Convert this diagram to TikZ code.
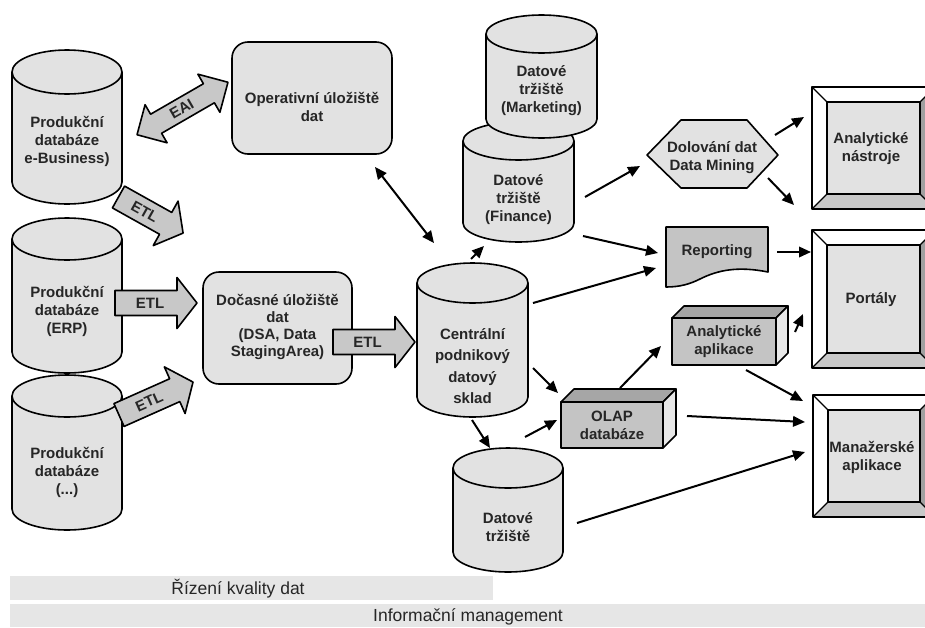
\documentclass[tikz,border=0pt]{standalone}
\usepackage{fontspec}
\setmainfont{Liberation Sans}
\usetikzlibrary{arrows.meta}

\definecolor{shapefill}{HTML}{E2E2E2}
\definecolor{etlfill}{HTML}{C8C8C8}
\definecolor{docfill}{HTML}{C4C4C4}
\definecolor{boxtop}{HTML}{A6A6A6}
\definecolor{boxside}{HTML}{E8E8E8}
\definecolor{bevbottom}{HTML}{C8C8C8}
\definecolor{bevright}{HTML}{A0A0A0}
\definecolor{barfill}{HTML}{E6E6E6}

% database cylinder: name, centre x, top y, bottom y, x radius, y radius, text y, text
\newcommand{\dbcyl}[8]{%
  \filldraw[outline,fill=shapefill] (#2,#4-#6) ellipse [x radius=#5, y radius=#6];
  \fill[shapefill] (#2-#5,#3+#6) rectangle (#2+#5,#4-#6);
  \draw[outline] (#2-#5,#3+#6) -- (#2-#5,#4-#6) (#2+#5,#3+#6) -- (#2+#5,#4-#6);
  \filldraw[outline,fill=shapefill] (#2,#3+#6) ellipse [x radius=#5, y radius=#6];
  \node[lbl] (#1) at (#2,#7) {#8};}

% bevelled button: name, left, top, right, bottom, text
\newcommand{\bevelbox}[6]{%
  \fill[white] (#2,#3) rectangle (#4,#5);
  \fill[bevbottom] (#2,#5) -- (#2+15,#5-15) -- (#4-15,#5-15) -- (#4,#5) -- cycle;
  \fill[bevright] (#4,#3) -- (#4-15,#3+15) -- (#4-15,#5-15) -- (#4,#5) -- cycle;
  \draw[line width=1.1] (#2,#3) -- (#2+15,#3+15) (#4,#3) -- (#4-15,#3+15)
        (#2,#5) -- (#2+15,#5-15) (#4,#5) -- (#4-15,#5-15);
  \filldraw[outline,fill=shapefill] (#2+15,#3+15) rectangle (#4-15,#5-15);
  \draw[outline] (#2,#3) rectangle (#4,#5);
  \node[lbl] (#1) at ({#2+59},{(#3+#5)/2+1}) {#6};}

% block arrow with label: name, tail x, tail y, angle, length, label, label position
\newcommand{\blockarrow}[7]{%
  \begin{scope}[shift={(#2,#3)}, rotate=#4]
    \filldraw[outline,fill=etlfill] (0,-12.5) -- (#5-20,-12.5) -- (#5-20,-25.5) -- (#5,0)
        -- (#5-20,25.5) -- (#5-20,12.5) -- (0,12.5) -- cycle;
    \node[lbl, rotate=#4] (#1) at (#7,0) {#6};
  \end{scope}}

% solid 3D box: name, left, top, right, bottom, depth, text
\newcommand{\solidbox}[7]{%
  \filldraw[outline,fill=boxtop] (#2,#3) -- (#2+#6,#3-#6) -- (#4+#6,#3-#6) -- (#4,#3) -- cycle;
  \filldraw[outline,fill=boxside] (#4,#3) -- (#4+#6,#3-#6) -- (#4+#6,#5-#6) -- (#4,#5) -- cycle;
  \filldraw[outline,fill=docfill] (#2,#3) rectangle (#4,#5);
  \node[lbl] (#1) at ({(#2+#4)/2},{(#3+#5)/2}) {#7};}

\begin{document}
\begin{tikzpicture}[x=1pt,y=-1pt,
  outline/.style={draw=black,line width=1.6,line join=round},
  lbl/.style={font=\bfseries\fontsize{15}{18}\selectfont,align=center,inner sep=0pt,text=black!85},
  rbox/.style={outline,fill=shapefill,rounded corners=16pt},
  conn/.style={line width=2,-{Triangle[length=12pt,width=10.5pt]}},
  conn2/.style={line width=2,{Triangle[length=12pt,width=10.5pt]}-{Triangle[length=12pt,width=10.5pt]}},
  barlbl/.style={font=\fontsize{17.5}{20}\selectfont,inner sep=0pt,text=black!85}]

\useasboundingbox (0,0) rectangle (925,627);
\fill[white] (0,0) rectangle (925,627);

% source databases
\dbcyl{src1}{67}{50}{204}{55}{22}{141}{Produkční\\databáze\\e-Business)}
\dbcyl{src2}{67}{218}{373}{55}{21}{311}{Produkční\\databáze\\(ERP)}
\dbcyl{src3}{67}{375}{530}{55}{21}{472}{Produkční\\databáze\\(...)}

% operational data store and staging area
\node[rbox,minimum width=160pt,minimum height=112pt] (odsbox) at (312,98) {};
\node[lbl] (ods) at (312,107) {Operativní úložiště\\dat};
\node[rbox,minimum width=149pt,minimum height=112pt] (dsabox) at (277.5,328) {};
\node[lbl,font=\bfseries\fontsize{15}{16.7}\selectfont] (dsa) at (277.5,327) {Dočasné úložiště\\dat\\(DSA, Data\\StagingArea)};

% EAI double block arrow
\begin{scope}[shift={(182.5,108.5)}, rotate=30]
  \filldraw[outline,fill=etlfill] (-52.5,0) -- (-30.5,-22) -- (-30.5,-11) -- (30.5,-11)
      -- (30.5,-22) -- (52.5,0) -- (30.5,22) -- (30.5,11) -- (-30.5,11) -- (-30.5,22) -- cycle;
  \node[lbl, rotate=30] (eai) at (-1,0) {EAI};
\end{scope}

% ETL block arrows
\blockarrow{etl1}{118.5}{197}{-29.2}{74}{ETL}{30}
\blockarrow{etl2}{115}{303}{0}{82}{ETL}{35}
\blockarrow{etl3}{119}{415}{24}{81}{ETL}{33}
\blockarrow{etl4}{333}{342}{0}{82}{ETL}{34.5}

% central warehouse and data marts
\dbcyl{dw}{472.5}{263}{417}{55.5}{20}{365.5}{}
\node[lbl,font=\bfseries\fontsize{15}{21.6}\selectfont] at (472.5,366) {Centrální\\podnikový\\datový\\sklad};
\dbcyl{finance}{518.5}{122}{242}{55.5}{19}{199.5}{Datové\\tržiště\\(Finance)}
\dbcyl{marketing}{541.5}{15}{138}{55.5}{19}{90.5}{Datové\\tržiště\\(Marketing)}
\dbcyl{mart}{508}{448}{572}{55}{20}{527}{Datové\\tržiště}

% data mining hexagon
\filldraw[outline,fill=shapefill] (647,155) -- (681,120) -- (747,120) -- (778,155) -- (747,188) -- (681,188) -- cycle;
\node[lbl] (dm) at (712,157.5) {Dolování dat\\Data Mining};

% reporting document
\filldraw[outline,fill=docfill] (666,227) -- (768,227) -- (768,272)
   .. controls (738,266) and (718,270) .. (700,279)
   .. controls (690,284) and (680,287) .. (666,287) -- cycle;
\node[lbl] (rep) at (717,252) {Reporting};

% OLAP and analytic applications
\solidbox{aapp}{672}{318}{776}{365}{12}{Analytické\\aplikace}
\solidbox{olap}{561}{402}{663}{448}{13}{OLAP\\databáze}

% front-end tools
\bevelbox{tools}{812}{87}{935}{209}{Analytické\\nástroje}
\bevelbox{portal}{812}{230}{935}{368}{Portály}
\bevelbox{mgmt}{813}{395}{935}{517}{Manažerské\\aplikace}

% connector end points
\coordinate (ods-o) at (375,167);   \coordinate (dw-i1) at (434,243);
\coordinate (dw-o1) at (471,259);   \coordinate (fin-i) at (484,246);
\coordinate (fin-o1) at (585,197);  \coordinate (dm-i) at (640,166);
\coordinate (fin-o2) at (583,236);  \coordinate (rep-i1) at (658,253);
\coordinate (dw-o2) at (533,303);   \coordinate (rep-i2) at (656,268);
\coordinate (dm-o1) at (775,135);   \coordinate (tools-i) at (804,117);
\coordinate (dm-o2) at (768,178);   \coordinate (portal-i1) at (794,205);
\coordinate (rep-o) at (777,252);   \coordinate (portal-i2) at (811,252);
\coordinate (dw-o3) at (533,368);   \coordinate (olap-i1) at (558,393);
\coordinate (dw-o4) at (472,420);   \coordinate (mart-i) at (490,448);
\coordinate (mart-o1) at (525,437); \coordinate (olap-i2) at (557,420);
\coordinate (olap-o1) at (620,388); \coordinate (aapp-i) at (661,346);
\coordinate (aapp-o1) at (795,332); \coordinate (portal-i3) at (803,314);
\coordinate (aapp-o2) at (746,370); \coordinate (mgmt-i1) at (803,401);
\coordinate (olap-o2) at (687,416); \coordinate (mgmt-i2) at (805,422);
\coordinate (mart-o2) at (577,523); \coordinate (mgmt-i3) at (805,452);

\draw[conn2] (ods-o) -- (dw-i1);
\draw[conn] (dw-o1) -- (fin-i);
\draw[conn] (fin-o1) -- (dm-i);
\draw[conn] (fin-o2) -- (rep-i1);
\draw[conn] (dw-o2) -- (rep-i2);
\draw[conn] (dm-o1) -- (tools-i);
\draw[conn] (dm-o2) -- (portal-i1);
\draw[conn] (rep-o) -- (portal-i2);
\draw[conn] (dw-o3) -- (olap-i1);
\draw[conn] (dw-o4) -- (mart-i);
\draw[conn] (mart-o1) -- (olap-i2);
\draw[conn] (olap-o1) -- (aapp-i);
\draw[conn] (aapp-o1) -- (portal-i3);
\draw[conn] (aapp-o2) -- (mgmt-i1);
\draw[conn] (olap-o2) -- (mgmt-i2);
\draw[conn] (mart-o2) -- (mgmt-i3);

% management bars
\fill[barfill] (10,576) rectangle (493,600);
\node[barlbl] (dq) at (238,588.5) {Řízení kvality dat};
\fill[barfill] (10,604) rectangle (925,627);
\node[barlbl] (im) at (468,616.5) {Informační management};

\end{tikzpicture}
\end{document}
